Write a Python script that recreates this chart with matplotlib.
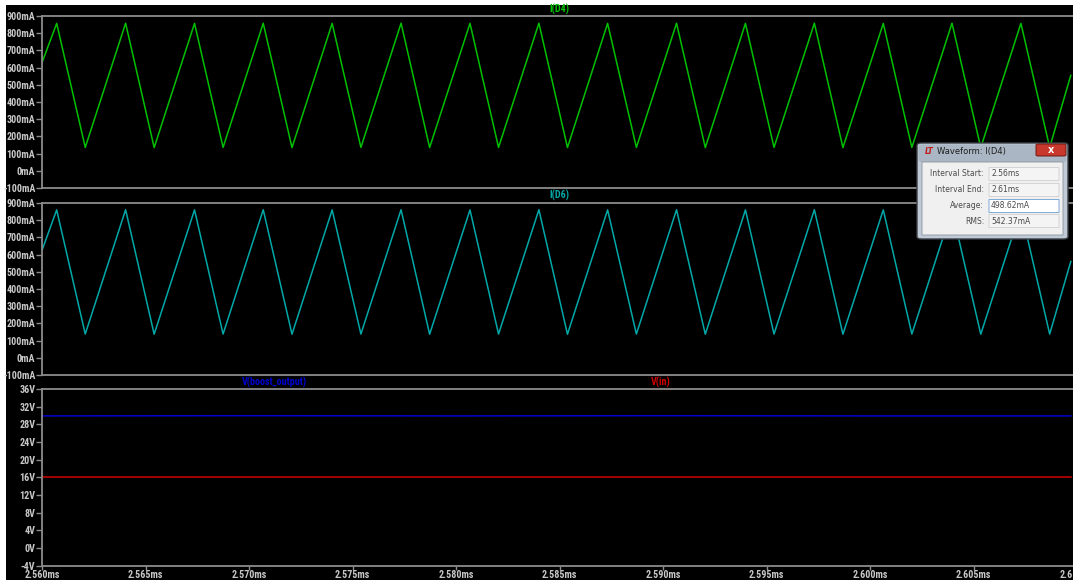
import matplotlib
matplotlib.use("Agg")
import matplotlib.pyplot as plt
from matplotlib import font_manager as fm
from matplotlib.patches import Rectangle, FancyBboxPatch
from matplotlib.ticker import FixedLocator, FuncFormatter

W, H = 1073, 580

# waveform vertices (time in ms, current in mA)
peak_t = [2.56070, 2.56403, 2.56736, 2.57068, 2.57401, 2.57734, 2.58067, 2.58400,
          2.58732, 2.59065, 2.59398, 2.59731, 2.60064, 2.60396, 2.60729]
trough_t = [2.56208, 2.56541, 2.56874, 2.57207, 2.57540, 2.57872, 2.58205, 2.58538,
            2.58871, 2.59204, 2.59536, 2.59869, 2.60202, 2.60535, 2.60868]
d4_peak = [857, 858, 857, 858, 857, 858, 857, 858, 857, 858, 857, 858, 857, 858, 857]
d4_trough = [136, 135, 136, 135, 136, 135, 136, 135, 136, 135, 136, 135, 136, 135, 136]
d6_peak = [860, 861, 860, 861, 860, 861, 860, 861, 860, 861, 860, 861, 860, 861, 860]
d6_trough = [138, 137, 138, 137, 138, 137, 138, 137, 138, 137, 138, 137, 138, 137, 138]
start_t, end_t = 2.5600, 2.6097
d4_start, d4_end = 632, 555
d6_start, d6_end = 628, 560

vout_t = [2.5600, 2.5700, 2.5800, 2.5900, 2.6000, 2.6097]
vout = [29.9, 29.95, 29.9, 29.95, 29.9, 29.9]
vin_t = [2.5600, 2.6097]
vin = [16.0, 16.0]

x_ticks = [2.560, 2.565, 2.570, 2.575, 2.580, 2.585, 2.590, 2.595, 2.600, 2.605, 2.610]
i_ticks = [-100, 0, 100, 200, 300, 400, 500, 600, 700, 800, 900]
v_ticks = [-4, 0, 4, 8, 12, 16, 20, 24, 28, 32, 36]

dialog_rows = ["Interval Start:", "Interval End:", "Average:", "RMS:"]
dialog_vals = ["2.56ms", "2.61ms", "498.62mA", "542.37mA"]

GRID = "#8c8c8c"
LABEL = "#c8c8c8"


def pick(names):
    for n in names:
        try:
            fm.findfont(fm.FontProperties(family=n, weight="bold"), fallback_to_default=False)
            return n, True
        except ValueError:
            pass
    return "Liberation Sans", False


narrow, found = pick(["Liberation Sans Narrow", "DejaVu Sans Condensed",
                      "Roboto Condensed", "Open Sans Condensed"])
FONT = [narrow, "DejaVu Sans"]
FS = 7.2 if found else 6.2


def wave(t0, v0, pt, pv, tt, tv, t1, v1):
    pts = [(t0, v0)] + list(zip(pt, pv)) + list(zip(tt, tv)) + [(t1, v1)]
    pts.sort()
    return [p[0] for p in pts], [p[1] for p in pts]


def fx(x):
    return x / W


def fy(y):
    return 1 - y / H


def panel(top, bottom):
    ax = fig.add_axes([fx(42.2), fy(bottom), (1077 - 42.2) / W, (bottom - top) / H])
    ax.set_facecolor("black")
    for s in ["left", "top", "bottom"]:
        ax.spines[s].set_color(GRID)
        ax.spines[s].set_linewidth(1.3)
    ax.spines["right"].set_visible(False)
    ax.set_xlim(2.560, 2.610)
    ax.tick_params(colors=GRID, labelcolor=LABEL, length=4, width=1,
                   direction="out", pad=1)
    return ax


fig = plt.figure(figsize=(W / 100, H / 100), dpi=100)
fig.patch.set_facecolor("white")
fig.add_artist(Rectangle((fx(6), 0), 1, fy(5), transform=fig.transFigure,
                         facecolor="black", edgecolor="none", zorder=0))

ax1 = panel(16, 188)
ax2 = panel(203, 375)
ax3 = panel(389, 565.5)

t, y = wave(start_t, d4_start, peak_t, d4_peak, trough_t, d4_trough, end_t, d4_end)
ax1.plot(t, y, color="#00c000", lw=1.1)
t, y = wave(start_t, d6_start, peak_t, d6_peak, trough_t, d6_trough, end_t, d6_end)
ax2.plot(t, y, color="#00a8a8", lw=1.1)
ax3.plot(vout_t, vout, color="#0000d0", lw=1.1)
ax3.plot(vin_t, vin, color="#d00000", lw=1.1)

for ax in (ax1, ax2):
    ax.set_ylim(-100, 900)
    ax.yaxis.set_major_locator(FixedLocator(i_ticks))
    ax.yaxis.set_major_formatter(FuncFormatter(lambda v, p: f"{v:g}mA"))
    ax.set_xticks([])
ax3.set_ylim(-4, 36)
ax3.yaxis.set_major_locator(FixedLocator(v_ticks))
ax3.yaxis.set_major_formatter(FuncFormatter(lambda v, p: f"{v:g}V"))
ax3.xaxis.set_major_locator(FixedLocator(x_ticks))
ax3.xaxis.set_major_formatter(FuncFormatter(lambda v, p: f"{v:.3f}ms"))
ax3.tick_params(axis="x", length=3, pad=0.5)

for ax in (ax1, ax2, ax3):
    for lab in ax.get_yticklabels() + ax.get_xticklabels():
        lab.set_family(FONT)
        lab.set_fontweight("bold")
        lab.set_fontsize(FS)


# trace names
def title(x, y, s, c):
    fig.text(fx(x), fy(y), s, color=c, ha="center", va="center",
             family=FONT, fontweight="bold", fontsize=FS)


title(559, 9.5, "I(D4)", "#00c000")
title(559, 195.5, "I(D6)", "#00a8a8")
title(274, 382.5, "V(boost_output)", "#0000d0")
title(661, 382.5, "V(in)", "#d00000")


# waveform info dialog
def box(x0, y0, x1, y1, fc, ec, lw=0.8, r=0.0, z=10):
    fig.add_artist(FancyBboxPatch((fx(x0), fy(y1)), fx(x1 - x0), (y1 - y0) / H,
                                  boxstyle=f"round,pad=0,rounding_size={r}",
                                  transform=fig.transFigure, facecolor=fc,
                                  edgecolor=ec, lw=lw, zorder=z))


box(917, 143, 1068, 239, "#bfcad6", "#3a3f45", lw=1.0, r=0.004)
box(918.5, 144.5, 1066.5, 162, "#aab6c3", "none", lw=0, r=0.003, z=11)
box(922, 162, 1063, 235, "#f0f0f0", "#8a939c", lw=0.6, z=12)
box(1036, 144, 1066, 156, "#c8382c", "#6e1b15", lw=0.7, r=0.002, z=13)
fig.text(fx(1051), fy(150), "x", color="white", ha="center", va="center",
         fontsize=7, fontweight="bold", zorder=14)
fig.text(fx(929), fy(151.5), "LT", color="#c02020", ha="center", va="center",
         fontsize=5.5, fontweight="bold", style="italic", zorder=14)
fig.text(fx(937), fy(151.5), "Waveform: I(D4)", color="#1e1e1e", ha="left",
         va="center", fontsize=6, family="DejaVu Sans", zorder=14)

row_y = [174, 190, 206, 221]
for lab, val, yy in zip(dialog_rows, dialog_vals, row_y):
    ec = "#7ea9d8" if lab == "Average:" else "#d4d4d4"
    fc = "white" if lab == "Average:" else "#f4f4f4"
    box(989, yy - 6.5, 1059, yy + 6.5, fc, ec, lw=0.7, z=13)
    fig.text(fx(984), fy(yy), lab, color="#4a4a4a", ha="right", va="center",
             fontsize=5.5, family="DejaVu Sans", zorder=14)
    fig.text(fx(991), fy(yy), val, color="#4a4a4a", ha="left", va="center",
             fontsize=5.5, family="DejaVu Sans", zorder=14)

fig.savefig("out.png", dpi=100, facecolor=fig.get_facecolor())
